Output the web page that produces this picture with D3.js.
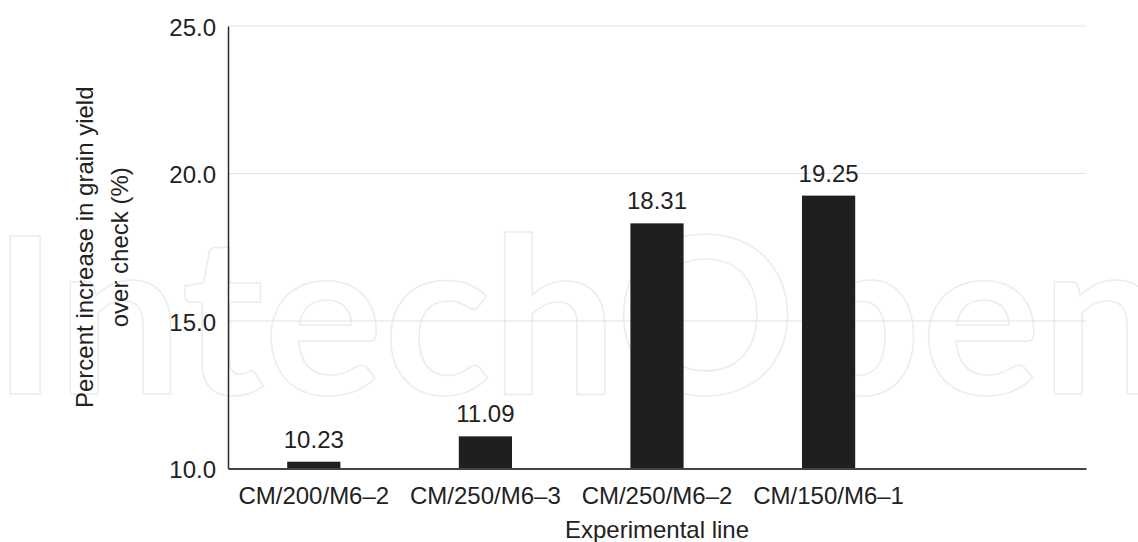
<!DOCTYPE html>
<html>
<head>
<meta charset="utf-8">
<script src="https://cdn.jsdelivr.net/npm/d3@7"></script>
<style>
  html, body { margin: 0; padding: 0; background: #fff; }
  svg { display: block; }
  text { font-family: "Liberation Sans", Arial, Helvetica, sans-serif; }
</style>
</head>
<body>
<svg id="chart" width="1138" height="542"></svg>
<script>
const categories = ["CM/200/M6–2", "CM/250/M6–3", "CM/250/M6–2", "CM/150/M6–1", ""];
const values = [10.23, 11.09, 18.31, 19.25, null];
const yTicks = [10, 15, 20, 25];
const yTitleLines = ["Percent increase in grain yield", "over check (%)"];
const xTitle = "Experimental line";
const watermark = "IntechOpen";

const W = 1138, H = 542;
const margin = { left: 228, right: 52, top: 26, bottom: 73.5 };
const FS = "24px";
const svg = d3.select("#chart");

// watermark (background)
svg.append("text")
  .attr("x", -8).attr("y", 394)
  .attr("textLength", 1175)
  .attr("lengthAdjust", "spacingAndGlyphs")
  .style("font-family", "Lato, 'Open Sans', sans-serif")
  .style("font-size", "218px")
  .style("font-weight", 700)
  .attr("fill", "none")
  .attr("stroke", "#ececec")
  .attr("stroke-width", 1.5)
  .text(watermark);

const x = d3.scaleBand().domain(categories.map((c, i) => i))
  .range([margin.left, W - margin.right]).paddingInner(0.69).paddingOuter(0.345);
const y = d3.scaleLinear().domain([10, 25]).range([H - margin.bottom, margin.top]);

// gridlines
svg.append("g").selectAll("line").data(yTicks.filter(t => t > 10)).join("line")
  .attr("x1", margin.left).attr("x2", W - margin.right)
  .attr("y1", d => y(d)).attr("y2", d => y(d))
  .attr("stroke", "#e3e3e3").attr("stroke-width", 1);

// bars
svg.append("g").selectAll("rect").data(values.map((v, i) => ({ v, i })).filter(d => d.v != null)).join("rect")
  .attr("x", d => x(d.i)).attr("width", x.bandwidth())
  .attr("y", d => y(d.v)).attr("height", d => y(10) - y(d.v))
  .attr("fill", "#1f1f1d");

// value labels
svg.append("g").selectAll("text").data(values.map((v, i) => ({ v, i })).filter(d => d.v != null)).join("text")
  .attr("x", d => x(d.i) + x.bandwidth() / 2)
  .attr("y", d => y(d.v) - 14)
  .attr("text-anchor", "middle")
  .style("font-size", FS).attr("fill", "#222")
  .text(d => d.v.toFixed(2));

// y axis
const yAxis = d3.axisLeft(y).tickValues(yTicks).tickFormat(d3.format(".1f")).tickSize(0).tickPadding(12);
const gy = svg.append("g").attr("transform", `translate(${margin.left},0)`).call(yAxis);
gy.select(".domain").attr("stroke", "#2a2a2a").attr("stroke-width", 1.5);
gy.selectAll("text").style("font-size", FS).attr("fill", "#222").attr("dy", "0.38em");

// x axis
const xAxis = d3.axisBottom(x).tickFormat(i => categories[i]).tickSize(0).tickPadding(18);
const gx = svg.append("g").attr("transform", `translate(0,${y(10)})`).call(xAxis);
gx.select(".domain").attr("stroke", "#444").attr("stroke-width", 2);
gx.selectAll("text").style("font-size", FS).attr("fill", "#222");

// y title
const yt = svg.append("text")
  .attr("transform", `translate(0,${(margin.top + H - margin.bottom) / 2}) rotate(-90)`)
  .attr("text-anchor", "middle")
  .style("font-size", FS).attr("fill", "#222");
yt.selectAll("tspan").data(yTitleLines).join("tspan")
  .attr("x", 0).attr("y", (d, i) => 93 + i * 35)
  .text(d => d);

// x title
svg.append("text")
  .attr("x", (margin.left + W - margin.right) / 2).attr("y", 538)
  .attr("text-anchor", "middle")
  .style("font-size", FS).attr("fill", "#222")
  .text(xTitle);
</script>
</body>
</html>
